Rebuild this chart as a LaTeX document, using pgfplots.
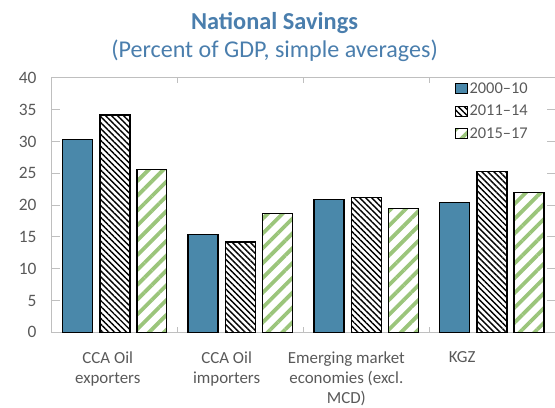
\documentclass[border=0pt]{standalone}
\usepackage{fontspec}
\setmainfont{Carlito}
\usepackage{pgfplots}
\pgfplotsset{compat=1.18}
\usetikzlibrary{patterns.meta}
\definecolor{barblue}{HTML}{4A88AA}
\definecolor{bargreen}{HTML}{9BC57B}
\definecolor{titleblue}{HTML}{4A7EAD}
\definecolor{axisgray}{HTML}{BFBFBF}
\definecolor{textgray}{HTML}{595959}
\begin{document}
\begin{tikzpicture}
\begin{axis}[
  scale only axis, width=504bp, height=255bp,
  xmin=-0.5, xmax=3.5, ymin=0, ymax=40,
  ytick={0,5,...,40},
  axis line style={axisgray, line width=1bp},
  tick style={axisgray, line width=1bp},
  tick align=inside,
  major tick length=8bp,
  xtick={-0.056,0.889,1.841,2.762},
  xticklabels={CCA Oil\\exporters, CCA Oil\\importers, Emerging market\\economies (excl.\\MCD), KGZ},
  xtick style={draw=none},
  extra x ticks={0.5,1.5,2.5},
  extra x tick labels={},
  extra x tick style={major tick length=5bp, xtick style={draw=axisgray}},
  xticklabel style={align=center, font=\fontsize{17}{20}\selectfont, text=textgray, yshift=-16bp},
  yticklabel style={font=\fontsize{17.5}{20}\selectfont, text=textgray, xshift=-12bp},
  /pgf/number format/assume math mode=true,
  legend style={at={(0.8,0.99)}, anchor=north west, draw=none, fill=none,
    font=\fontsize{16.5}{18}\selectfont, text=textgray, row sep=6.5bp, inner sep=0pt,
    cells={anchor=west}},
  legend image code/.code={\draw[#1, line width=1bp] (0bp,-5bp) rectangle (12bp,5bp);},
  clip=false,
]
\addplot[ybar, bar width=30bp, bar shift=-37.5bp, fill=barblue, draw=black, line width=1.5bp]
  coordinates {(0,30.3) (1,15.4) (2,20.9) (3,20.4)};
\addlegendentry{2000--10}
\addplot[ybar, bar width=30bp, bar shift=0bp, draw=black, line width=1.5bp,
  pattern={Lines[angle=-45,distance=4.2bp,line width=1.4bp]}, pattern color=black]
  coordinates {(0,34.2) (1,14.2) (2,21.2) (3,25.3)};
\addlegendentry{2011--14}
\addplot[ybar, bar width=30bp, bar shift=37bp, draw=black, line width=1.5bp,
  pattern={Lines[angle=45,distance=10.5bp,line width=3.8bp]}, pattern color=bargreen]
  coordinates {(0,25.6) (1,18.7) (2,19.5) (3,22.0)};
\addlegendentry{2015--17}
\coordinate (O) at (rel axis cs:0,0);
\coordinate (T) at (rel axis cs:1,1);
\node[anchor=base, font=\fontsize{24.5}{26}\selectfont\bfseries, text=titleblue] at (axis description cs:0.4425,1.188) {National Savings};
\node[anchor=base, font=\fontsize{24.2}{26}\selectfont, text=titleblue] at (axis description cs:0.4425,1.078) {(Percent of GDP, simple averages)};
\end{axis}
\pgfresetboundingbox
\path (O) ++(-52bp,-75bp) coordinate (A);
\path (T) ++(-1bp,78bp) coordinate (B);
\path[use as bounding box] (A) rectangle (B);
\end{tikzpicture}
\end{document}
